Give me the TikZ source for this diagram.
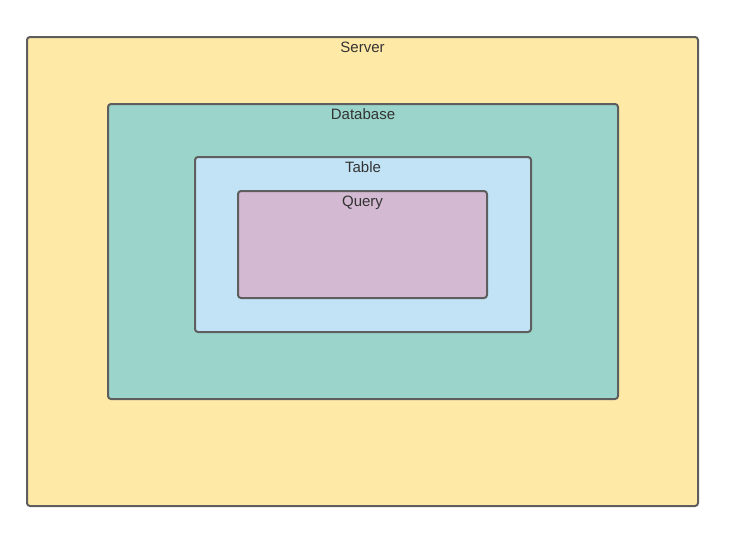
\documentclass[tikz,border=0pt]{standalone}
\usepackage{fontspec}
\setmainfont{Liberation Sans}
\definecolor{srvfill}{HTML}{FFE9A6}
\definecolor{dbfill}{HTML}{9AD4CA}
\definecolor{tblfill}{HTML}{C2E3F6}
\definecolor{qryfill}{HTML}{D3B9D2}
\definecolor{edge}{HTML}{5E5E5E}
\definecolor{txt}{HTML}{333333}
\begin{document}
\begin{tikzpicture}[x=1pt,y=-1pt]
\tikzstyle{box} = [draw=edge, line width=2pt, rounded corners=3pt, inner sep=0pt]
\tikzstyle{lbl} = [anchor=base, inner sep=0pt, text=txt, font=\fontsize{15}{18}\selectfont]
\useasboundingbox (0,0) rectangle (730,542);

\node[box, fill=srvfill, minimum width=671pt, minimum height=469pt] (server) at (362.5,271.5) {};
\node[lbl] (serverlbl) at ([yshift=-16.5pt]server.north) {Server};

\node[box, fill=dbfill, minimum width=510pt, minimum height=295pt] (database) at (363,251.5) {};
\node[lbl] (databaselbl) at ([yshift=-16.5pt]database.north) {Database};

\node[box, fill=tblfill, minimum width=336pt, minimum height=175pt] (table) at (363,244.5) {};
\node[lbl] (tablelbl) at ([yshift=-16.5pt]table.north) {Table};

\node[box, fill=qryfill, minimum width=249pt, minimum height=107pt] (query) at (362.5,244.5) {};
\node[lbl] (querylbl) at ([yshift=-16.5pt]query.north) {Query};
\end{tikzpicture}
\end{document}
